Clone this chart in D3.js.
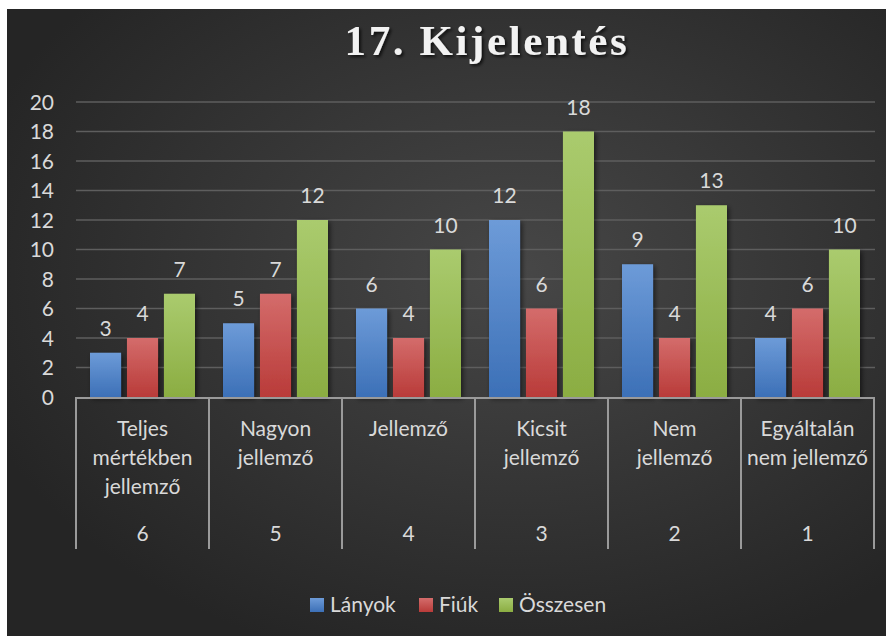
<!DOCTYPE html>
<html><head><meta charset="utf-8">
<script src="https://cdn.jsdelivr.net/npm/d3@7"></script>
<style>html,body{margin:0;padding:0;background:#fff;}svg{display:block;}</style>
</head><body>
<script>
const categories = [["Teljes","mértékben","jellemző"],["Nagyon","jellemző"],["Jellemző"],["Kicsit","jellemző"],["Nem","jellemző"],["Egyáltalán","nem jellemző"]];
const codes = ["6","5","4","3","2","1"];
const seriesNames = ["Lányok","Fiúk","Összesen"];
const lanyok = [3,5,6,12,9,4];
const fiuk = [4,7,4,6,4,6];
const osszesen = [7,12,10,18,13,10];
const yTicks = [0,2,4,6,8,10,12,14,16,18,20];
const title = "17. Kijelentés";

(function(){
const W=887,H=636;
const svg=d3.select("body").append("svg").attr("width",W).attr("height",H);
const defs=svg.append("defs");
const bg=defs.append("radialGradient").attr("id","bg").attr("cx","58%").attr("cy","42%").attr("r","65%");
bg.append("stop").attr("offset","0%").attr("stop-color","#474747");
bg.append("stop").attr("offset","100%").attr("stop-color","#252525");
const cols=[["#6d9bd8","#3c70b7"],["#d46c6b","#b93b39"],["#aacb6e","#8bad42"]];
cols.forEach((c,i)=>{const g=defs.append("linearGradient").attr("id","g"+i).attr("x1",0).attr("y1",0).attr("x2",0).attr("y2",1);
 g.append("stop").attr("offset","0%").attr("stop-color",c[0]);g.append("stop").attr("offset","100%").attr("stop-color",c[1]);});
const sh=defs.append("filter").attr("id","sh").attr("x","-30%").attr("y","-30%").attr("width","160%").attr("height","160%");
sh.append("feDropShadow").attr("dx",2).attr("dy",2).attr("stdDeviation",2.5).attr("flood-color","#000").attr("flood-opacity",0.55);
const tsh=defs.append("filter").attr("id","tsh");
tsh.append("feDropShadow").attr("dx",2).attr("dy",2).attr("stdDeviation",1.5).attr("flood-color","#000").attr("flood-opacity",0.7);

svg.append("rect").attr("x",7).attr("y",9).attr("width",W-8).attr("height",H-9).attr("fill","url(#bg)");

svg.append("text").attr("x",487).attr("y",55).attr("text-anchor","middle")
 .attr("font-family","'Liberation Serif','Times New Roman',serif").attr("font-weight","bold").attr("font-size",43)
 .attr("letter-spacing","2.6").attr("fill","#f2f2f2").attr("filter","url(#tsh)").text(title);

const pl=76,pr=874,pt=102,pb=397;
const y=d3.scaleLinear().domain([0,20]).range([pb,pt]);
const x0=d3.scaleBand().domain(d3.range(6)).range([pl,pr]).paddingInner(0).paddingOuter(0);
const x1=d3.scaleBand().domain(d3.range(3)).range([14,x0.bandwidth()-14]).paddingInner(0.16).paddingOuter(0);

const font="Lato,'Open Sans',sans-serif";
const fs=21;
const txt="#d9d9d9";
svg.append("g").selectAll("line").data(yTicks.filter(d=>d>0)).join("line")
 .attr("x1",pl).attr("x2",pr+1).attr("y1",d=>y(d)).attr("y2",d=>y(d))
 .attr("stroke","#5e5e5e").attr("stroke-width",1.5);
const ya=svg.append("g").attr("transform",`translate(${pl},0)`).call(d3.axisLeft(y).tickValues(yTicks).tickSize(0).tickPadding(22));
ya.select(".domain").remove();
ya.selectAll("text").attr("font-family",font).attr("font-size",fs).attr("fill",txt).attr("dy","0.35em");

const series=[lanyok,fiuk,osszesen];
series.forEach((vals,si)=>{
 const g=svg.append("g");
 g.selectAll("rect").data(vals).join("rect")
  .attr("x",(d,i)=>x0(i)+x1(si)).attr("width",x1.bandwidth())
  .attr("y",d=>y(d)).attr("height",d=>y(0)-y(d))
  .attr("fill",`url(#g${si})`).attr("filter","url(#sh)");
 g.selectAll("text").data(vals).join("text")
  .attr("x",(d,i)=>x0(i)+x1(si)+x1.bandwidth()/2).attr("y",d=>y(d)-17)
  .attr("text-anchor","middle").attr("font-family",font).attr("font-size",fs).attr("fill",txt).text(d=>d);
});

const ax=svg.append("g");
ax.append("line").attr("x1",pl).attr("x2",pr).attr("y1",pb+1).attr("y2",pb+1).attr("stroke","#9a9a9a").attr("stroke-width",2);
ax.selectAll("line.v").data(d3.range(7)).join("line").attr("class","v")
 .attr("x1",i=>pl+i*x0.bandwidth()).attr("x2",i=>pl+i*x0.bandwidth())
 .attr("y1",pb).attr("y2",549).attr("stroke","#9a9a9a").attr("stroke-width",2);
categories.forEach((lines,i)=>{
 const t=ax.append("text").attr("text-anchor","middle").attr("font-family",font).attr("font-size",fs).attr("fill",txt);
 lines.forEach((l,k)=>t.append("tspan").attr("x",x0(i)+x0.bandwidth()/2).attr("y",436+k*29).text(l));
 ax.append("text").attr("x",x0(i)+x0.bandwidth()/2).attr("y",541).attr("text-anchor","middle")
  .attr("font-family",font).attr("font-size",fs).attr("fill",txt).text(codes[i]);
});

const legX=[310,419,499];
seriesNames.forEach((n,i)=>{
 svg.append("rect").attr("x",legX[i]).attr("y",598).attr("width",14).attr("height",14).attr("fill",`url(#g${i})`);
 svg.append("text").attr("x",legX[i]+20).attr("y",612).attr("font-family",font).attr("font-size",fs).attr("fill",txt).text(n);
});
})();
</script>
</body></html>
